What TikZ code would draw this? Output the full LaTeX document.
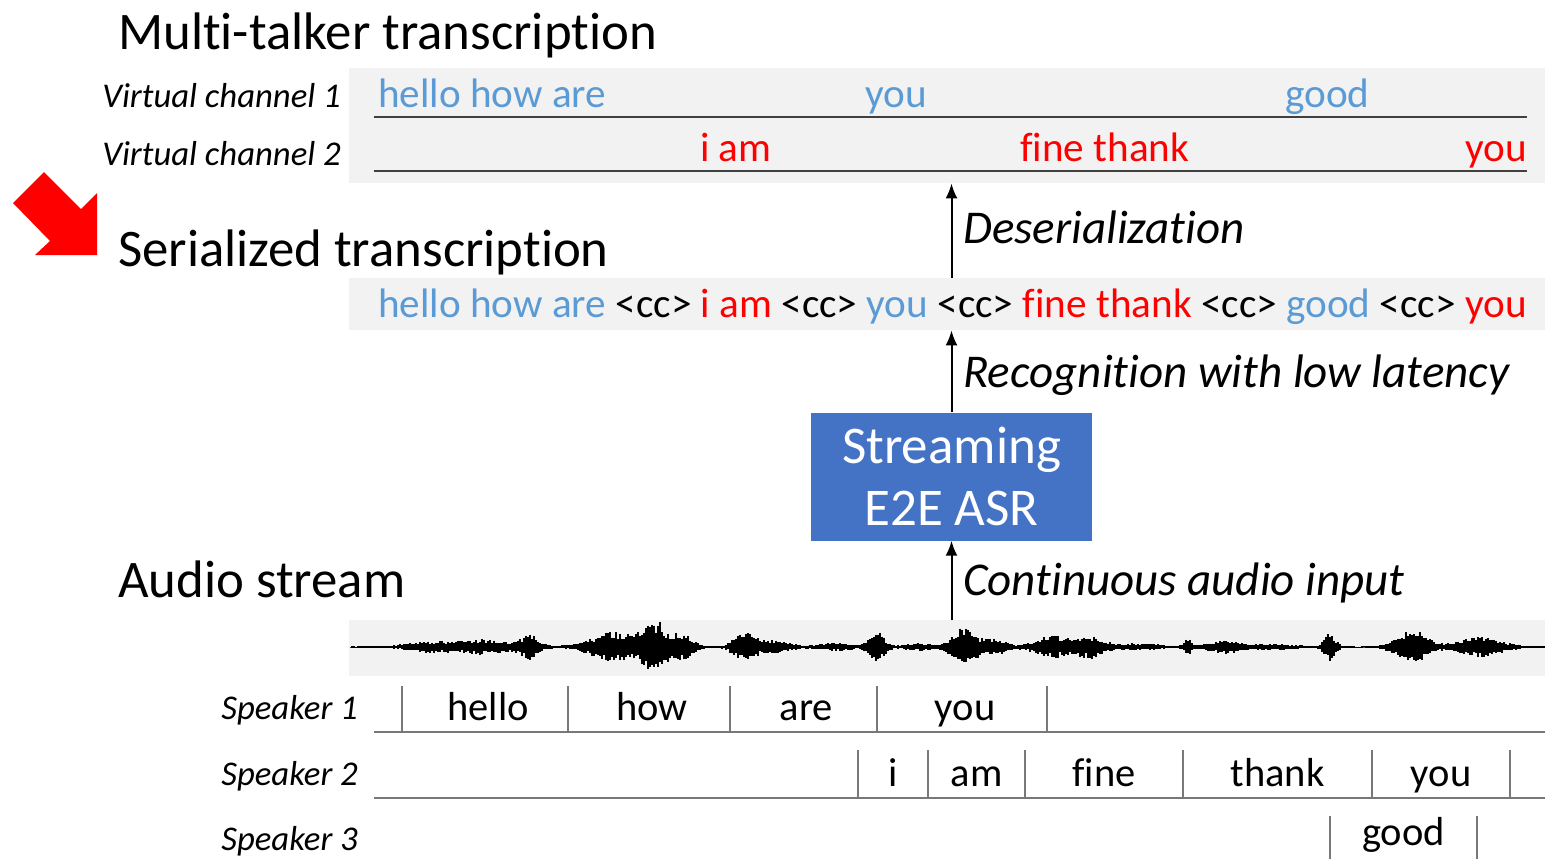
\documentclass[tikz,border=0pt]{standalone}
\usepackage{fontspec}
\setmainfont{Carlito}[Ligatures=NoCommon]
\usepackage{xcolor}
\usetikzlibrary{calc, positioning, arrows.meta}

\definecolor{vblue}{RGB}{91,155,213}
\definecolor{asrblue}{RGB}{68,114,196}
\definecolor{bandgray}{RGB}{242,242,242}
\definecolor{rulegray}{RGB}{120,120,120}

\tikzset{
    title/.style={anchor=base west, inner sep=0pt, font=\fontsize{52.8}{52.8}\selectfont},
    chlabel/.style={anchor=base east, inner sep=0pt, font=\fontsize{34.7}{34.7}\selectfont\itshape},
    arrlabel/.style={anchor=base west, inner sep=0pt, font=\fontsize{47}{47}\selectfont\itshape},
    txt/.style={anchor=base west, inner sep=0pt, font=\fontsize{41.2}{41.2}\selectfont},
    wrd/.style={anchor=base, inner sep=0pt, font=\fontsize{40.5}{40.5}\selectfont},
    band/.style={fill=bandgray, inner sep=0pt, anchor=north west},
    uline/.style={draw=black!75, line width=2pt},
    spline/.style={draw=rulegray, line width=2.5pt},
    tick/.style={draw=rulegray, line width=1.6pt},
    flow/.style={->, line width=2pt},
    wave/.style={line width=1.6pt},
    declare function={gb(\c,\w,\t)=exp(-min(abs((\t-\c)/\w),6)^2);}
}

\begin{document}
\begin{tikzpicture}[>={Latex[length=15pt,width=12pt]}, x=1pt, y=-1pt]
    \useasboundingbox (0,0) rectangle (1545,859);

    % Titel
    \node[title] (ttop) at (118,50) {Multi-talker transcription};
    \node[title] (tser) at (118,266) {Serialized transcription};
    \node[title] (taud) at (118,597) {Audio stream};
    \fill[red] (13,203) -- (44,172) -- (81,209) -- (97,193) -- (97,255)
        -- (35,255) -- (50,241) -- cycle;

    % Virtuelle Kanaele
    \node[band, minimum width=1196pt, minimum height=115pt] (vc) at (349,68) {};
    \node[chlabel] (vc1) at (341,107) {Virtual channel 1};
    \node[chlabel] (vc2) at (341,165) {Virtual channel 2};
    \draw[uline] (374,117) -- (1527,117);
    \draw[uline] (374,171) -- (1527,171);
    \node[txt, text=vblue] (c1a) at (378,107) {hello how are};
    \node[txt, text=vblue] (c1b) at (865,107) {you};
    \node[txt, text=vblue] (c1c) at (1285,107) {good};
    \node[txt, text=red] (c2a) at (700,161) {i am};
    \node[txt, text=red] (c2b) at (1020,161) {fine thank};
    \node[txt, text=red, anchor=base east] (c2c) at (1527,161) {you};

    % Serialisierte Transkription
    \node[band, minimum width=1196pt, minimum height=52pt] (ser) at (349,278) {};
    \node[txt] (sertxt) at (378,317) {{\color{vblue}hello how are} <cc>
        {\color{red}i am} <cc> {\color{vblue}you} <cc> {\color{red}fine thank}
        <cc> {\color{vblue}good} <cc> {\color{red}you}};

    % ASR-Block
    \node[fill=asrblue, text=white, minimum width=281pt, minimum height=128pt,
        inner sep=0pt, align=center, font=\fontsize{53}{62}\selectfont]
        (asr) at (951.5,476.5) {Streaming\\E2E ASR};

    % Audio
    \node[band, minimum width=1196pt, minimum height=56pt] (aud) at (349,620) {};
    \draw[black!70, line width=1pt] (350,647) -- (1545,647);
    \pgfmathsetseed{11}
    \foreach \x in {352,354,...,1544} {
        \pgfmathsetmacro{\amp}{0.9 + 5*gb(430,30,\x) + 6.5*gb(485,35,\x) + 11*gb(530,12,\x)
            + 15*gb(612,28,\x) + 26*gb(655,16,\x) + 13*gb(684,12,\x)
            + 13*gb(745,15,\x) + 6*gb(775,18,\x) + 3.5*gb(835,25,\x) + 15*gb(877,10,\x)
            + 3*gb(920,20,\x) + 18*gb(963,14,\x) + 8*gb(992,18,\x)
            + 10.5*gb(1052,22,\x) + 10.5*gb(1090,18,\x) + 3*gb(1140,25,\x)
            + 8*gb(1188,5,\x) + 6*gb(1225,22,\x) + 2.5*gb(1275,25,\x)
            + 15*gb(1330,7,\x) + 16*gb(1412,20,\x) + 9.5*gb(1480,28,\x)}
        \pgfmathsetmacro{\up}{\amp*(0.5+0.5*rnd)}
        \pgfmathsetmacro{\dn}{\amp*(0.5+0.5*rnd)}
        \draw[wave] (\x,647-\up) -- (\x,647+\dn);
    }

    % Pfeile
    \draw[flow] (aud.north -| asr.south) -- (asr.south);
    \draw[flow] (asr.north) -- (ser.south -| asr.north);
    \draw[flow] (ser.north -| asr.north) -- (vc.south -| asr.north);
    \node[arrlabel] (l1) at (963,243) {Deserialization};
    \node[arrlabel] (l2) at (963,387) {Recognition with low latency};
    \node[arrlabel] (l3) at (963,595) {Continuous audio input};

    % Sprecher
    \node[chlabel] (sp1) at (358,719) {Speaker 1};
    \node[chlabel] (sp2) at (358,785) {Speaker 2};
    \node[chlabel] (sp3) at (358,850) {Speaker 3};
    \draw[spline] (374,732) -- (1545,732);
    \draw[spline] (374,798) -- (1545,798);
    \foreach \a/\b/\w in {402/568/hello, 568/730/how, 730/877/are, 877/1047/you} {
        \draw[tick] (\a,686) -- (\a,732);
        \node[wrd] at ({(\a+\b)/2+3},720) {\w};
    }
    \draw[tick] (1047,686) -- (1047,732);
    \foreach \a/\b/\w in {858/928/i, 928/1025/am, 1025/1183/fine, 1183/1372/thank, 1372/1510/you} {
        \draw[tick] (\a,750) -- (\a,798);
        \node[wrd] at ({(\a+\b)/2},786) {\w};
    }
    \draw[tick] (1510,750) -- (1510,798);
    \draw[tick] (1330,816) -- (1330,859);
    \draw[tick] (1477,816) -- (1477,859);
    \node[wrd] (g3) at (1403.5,845) {good};
\end{tikzpicture}
\end{document}
